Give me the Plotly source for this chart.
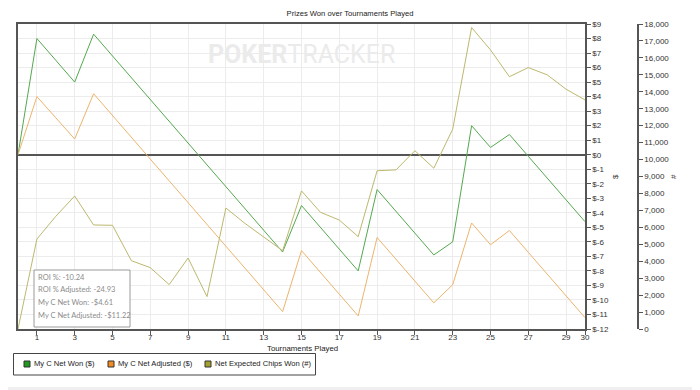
import plotly.graph_objects as go

tournaments = list(range(0, 31))
net_won = [0, 8.0, 6.5, 5.0, 8.3, 6.8, 5.3, 3.8, 2.3, 0.8, -0.7, -2.2, -3.7, -5.2, -6.7,
           -3.5, -5.0, -6.5, -8.0, -2.4, -3.9, -5.4, -6.9, -6.0, 2.0, 0.5, 1.39,
           -0.11, -1.61, -3.11, -4.61]
net_adjusted = [0, 4.0, 2.54, 1.08, 4.2, 2.7, 1.2, -0.3, -1.8, -3.3, -4.8, -6.3, -7.8, -9.3, -10.8,
                -6.6, -8.1, -9.6, -11.1, -5.7, -7.2, -8.7, -10.2, -8.95, -4.7, -6.2, -5.22,
                -6.72, -8.22, -9.72, -11.22]
chips_won = [0, 5310, 6650, 7850, 6140, 6120, 4030, 3620, 2620, 4190, 1910, 7140, 6240, 5450, 4620,
             8150, 6890, 6430, 5450, 9340, 9390, 10520, 9490, 11790, 17790, 16470, 14890,
             15430, 15000, 14150, 13520]

series_names = ["My C Net Won ($)", "My C Net Adjusted ($)", "Net Expected Chips Won (#)"]
line_colors = ["#55a84f", "#ecb46e", "#bdb86e"]
legend_colors = ["#1f9a1f", "#f28c22", "#a4a12a"]

x_ticks = list(range(1, 30, 2)) + [30]
usd_ticks = list(range(-12, 10))
usd_text = [f"${v}" for v in usd_ticks]
chip_ticks = list(range(0, 18001, 1000))

stats_lines = ["ROI %: -10.24", "ROI % Adjusted: -24.93",
               "My C Net Won: -$4.61", "My C Net Adjusted: -$11.22"]

# page offset (body margin) of 8px
OFF = 8
W, H = 692, 382
L, T = 10, 16
PLOT_R, PLOT_B = 630, 321
R, B = W - PLOT_R, H - PLOT_B
PW, PH = PLOT_R - L, PLOT_B - T


def px(xs):
    """screen x -> paper x"""
    return (xs - OFF - L) / PW


def py(ys):
    """screen y -> paper y"""
    return (PLOT_B - (ys - OFF)) / PH


FONT = "Liberation Sans, Arial, sans-serif"
AX = "#555555"
GRID = "#ececec"

fig = go.Figure()
fig.add_trace(go.Scatter(x=tournaments, y=net_won, mode="lines", yaxis="y", name=series_names[0],
                         line=dict(color=line_colors[0], width=1), showlegend=False))
fig.add_trace(go.Scatter(x=tournaments, y=net_adjusted, mode="lines", yaxis="y", name=series_names[1],
                         line=dict(color=line_colors[1], width=1), showlegend=False))
fig.add_trace(go.Scatter(x=tournaments, y=chips_won, mode="lines", yaxis="y2", name=series_names[2],
                         line=dict(color=line_colors[2], width=1), showlegend=False))

shapes = [
    # light grey page edge
    dict(type="rect", xref="paper", yref="paper", x0=px(693), x1=px(701), y0=py(391), y1=py(0),
         fillcolor="#efefef", line=dict(width=0), layer="below"),
    dict(type="rect", xref="paper", yref="paper", x0=px(0), x1=px(701), y0=py(391), y1=py(387),
         fillcolor="#efefef", line=dict(width=0), layer="below"),
    # stats box
    dict(type="rect", xref="paper", yref="paper", x0=px(34), x1=px(130), y0=py(327), y1=py(270),
         fillcolor="white", line=dict(color="#9a9a9a", width=1), layer="above"),
    # legend box
    dict(type="rect", xref="paper", yref="paper", x0=px(13.5), x1=px(315.5), y0=py(375), y1=py(353.5),
         fillcolor="white", line=dict(color="#444444", width=1), layer="above"),
]

annotations = [
    dict(text="<b>POKER</b>TRACKER", xref="paper", yref="paper", x=px(301), y=py(55),
         yanchor="middle", showarrow=False,
         font=dict(family="Roboto, sans-serif", size=25, color="#ebebeb")),
    dict(text="$", xref="paper", yref="paper", x=px(615), y=py(177), textangle=-90,
         xanchor="center", yanchor="middle",
         showarrow=False, font=dict(family=FONT, size=8, color="#333")),
    dict(text="#", xref="paper", yref="paper", x=px(673), y=py(177), textangle=-90,
         xanchor="center", yanchor="middle",
         showarrow=False, font=dict(family=FONT, size=8, color="#333")),
    dict(text="Tournaments Played", xref="paper", yref="paper", x=px(302), y=py(348),
         xanchor="center", yanchor="middle",
         showarrow=False, font=dict(family=FONT, size=7.8, color="#222")),
]
for i, s in enumerate(stats_lines):
    annotations.append(dict(text=s, xref="paper", yref="paper", x=px(36), y=py(277 + i * 12.7),
                            xanchor="left", yanchor="middle", showarrow=False,
                            font=dict(family="Lato, sans-serif", size=7.5, color="#8c8c8c")))

legend_x = [24, 108, 205]
for name, c, lx in zip(series_names, legend_colors, legend_x):
    shapes.append(dict(type="rect", xref="paper", yref="paper", x0=px(lx), x1=px(lx + 6),
                       y0=py(367), y1=py(361), fillcolor=c,
                       line=dict(color="#333333", width=1), layer="above"))
    annotations.append(dict(text=name, xref="paper", yref="paper", x=px(lx + 8), y=py(364),
                            xanchor="left", yanchor="middle", showarrow=False,
                            font=dict(family=FONT, size=7.6, color="#222")))

fig.update_layout(
    width=W, height=H,
    margin=dict(l=L, r=R, t=T, b=B, autoexpand=False),
    paper_bgcolor="white", plot_bgcolor="white",
    font=dict(family=FONT, size=8, color="#333333"),
    showlegend=False,
    title=dict(text="Prizes Won over Tournaments Played", x=0.5 * 700 / W - OFF / W, xanchor="center",
               y=1 - (13 - OFF) / H, yanchor="middle", font=dict(family=FONT, size=7.6, color="#222")),
    xaxis=dict(range=[0, 30], domain=[0, (585 - 18) / PW], tickvals=x_ticks,
               showgrid=True, gridcolor=GRID, gridwidth=1,
               showline=True, linecolor=AX, linewidth=1.5, mirror=True,
               ticks="outside", ticklen=4, tickcolor=AX, zeroline=False,
               ticklabelstandoff=-4, tickfont=dict(size=8)),
    yaxis=dict(range=[-12, 9], side="right", tickvals=usd_ticks, ticktext=usd_text,
               showgrid=True, gridcolor=GRID, gridwidth=1,
               showline=True, linecolor=AX, linewidth=1.5, mirror=True,
               ticks="outside", ticklen=4, tickcolor=AX,
               zeroline=True, zerolinecolor=AX, zerolinewidth=1.5, tickfont=dict(size=8)),
    yaxis2=dict(range=[0, 18000], overlaying="y", side="right", anchor="free", position=1,
                tickvals=chip_ticks, tickformat=",d", showgrid=False, zeroline=False,
                showline=True, linecolor=AX, linewidth=1.5,
                ticks="outside", ticklen=4, tickcolor=AX, tickfont=dict(size=8)),
    shapes=shapes, annotations=annotations,
)

fig.write_html("out.html")
